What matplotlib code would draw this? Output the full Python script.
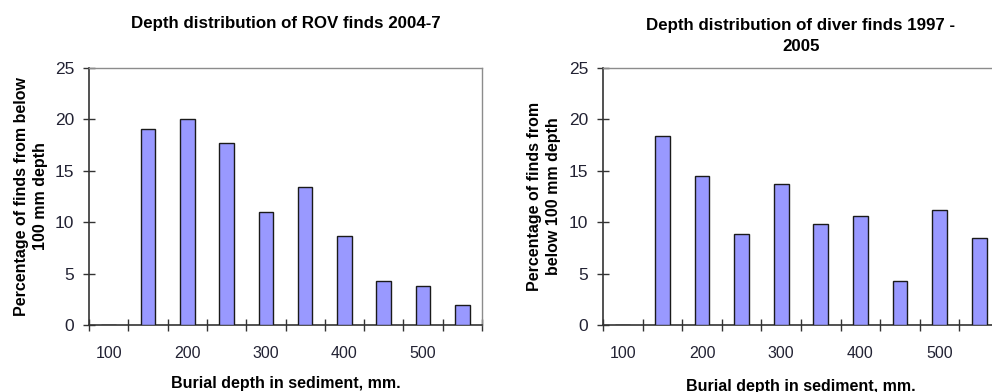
import matplotlib.pyplot as plt
import numpy as np

plt.rcParams['font.family'] = ['Liberation Sans', 'DejaVu Sans']

# burial depth categories (mm), every 50 mm
depths = [100, 150, 200, 250, 300, 350, 400, 450, 500, 550]
shown_labels = ['100', '200', '300', '400', '500']

rov_pct = [0, 19.1, 20.0, 17.7, 11.0, 13.4, 8.7, 4.3, 3.8, 1.9]
diver_pct = [0, 18.4, 14.5, 8.9, 13.7, 9.8, 10.6, 4.3, 11.2, 8.5]

bar_color = '#9999ff'
axis_color = '#333333'


def draw_panel(ax, values, title, ylabel, title_y, xlabel_pad, ylabel_pad):
    x = np.arange(len(depths))
    ax.bar(x, values, width=0.37, color=bar_color, edgecolor='#1a1a1a', linewidth=1.0, zorder=3)
    ax.set_xlim(-0.5, len(depths) - 0.5)
    ax.set_ylim(0, 25)
    ax.set_yticks([0, 5, 10, 15, 20, 25])

    # tick marks on category boundaries, labels on every other category
    ax.set_xticks(np.arange(-0.5, len(depths)), minor=False)
    ax.set_xticklabels([])
    ax.set_xticks(x[::2], minor=True)
    ax.set_xticklabels(shown_labels, minor=True)
    ax.tick_params(axis='x', which='major', direction='inout', length=9, width=1, color=axis_color)
    ax.tick_params(axis='x', which='minor', length=0, pad=15, labelsize=11.5, labelcolor='#222233')
    ax.tick_params(axis='y', direction='inout', length=9, width=1, color=axis_color,
                   labelsize=12.5, labelcolor='#222233', pad=6)

    for side in ['left', 'bottom']:
        ax.spines[side].set_color(axis_color)
        ax.spines[side].set_linewidth(1.2)
    for side in ['top', 'right']:
        ax.spines[side].set_color('#8c8c8c')
        ax.spines[side].set_linewidth(1.0)

    ax.set_ylabel(ylabel, fontsize=11.5, fontweight='bold', linespacing=1.3, labelpad=ylabel_pad)
    ax.set_xlabel('Burial depth in sediment, mm.', fontsize=11.5, fontweight='bold', labelpad=xlabel_pad)
    ax.set_title(title, fontsize=12.2, fontweight='bold', y=title_y, linespacing=1.5)


fig = plt.figure(figsize=(9.92, 3.92), dpi=100)

ax1 = fig.add_axes([89 / 992, 67 / 392, 393 / 992, 257 / 392])
draw_panel(ax1, rov_pct, 'Depth distribution of ROV finds 2004-7',
           'Percentage of finds from below\n100 mm depth', 1.125, 11, 5)

ax2 = fig.add_axes([603 / 992, 67 / 392, 396 / 992, 257 / 392])
draw_panel(ax2, diver_pct, 'Depth distribution of diver finds 1997 -\n2005',
           'Percentage of finds from\nbelow 100 mm depth', 1.035, 13, 6)

fig.savefig('out.png', dpi=100)
